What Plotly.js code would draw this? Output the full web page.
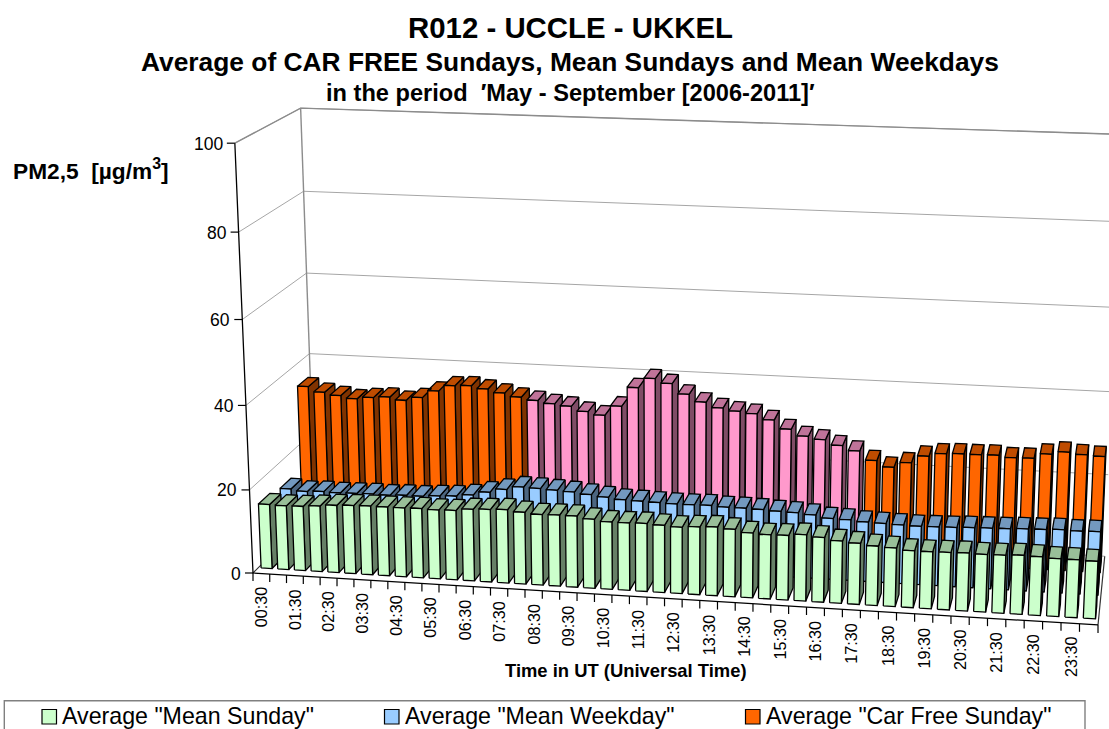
<!DOCTYPE html>
<html>
<head>
<meta charset="utf-8">
<script src="https://cdn.plot.ly/plotly-3.0.1.min.js"></script>
<style>html,body{margin:0;padding:0;background:#fff;overflow:hidden}</style>
</head>
<body>
<div id="chart" style="width:1109px;height:729px"></div>
<script>
var categories = ["00:30","01:00","01:30","02:00","02:30","03:00","03:30","04:00","04:30","05:00","05:30","06:00","06:30","07:00","07:30","08:00","08:30","09:00","09:30","10:00","10:30","11:00","11:30","12:00","12:30","13:00","13:30","14:00","14:30","15:00","15:30","16:00","16:30","17:00","17:30","18:00","18:30","19:00","19:30","20:00","20:30","21:00","21:30","22:00","22:30","23:00","23:30","24:00"];
var meanSunday = [15.5,15.4,15.5,15.8,16.2,16.4,16.5,16.5,16.5,16.6,16.5,16.6,17.1,17.3,17.5,17.1,16.8,16.9,16.9,16.4,16.0,16.0,16.1,15.9,15.7,16.0,16.2,15.9,15.3,15.1,15.2,15.6,15.2,14.6,14.3,13.9,13.7,13.3,13.3,13.4,13.5,13.4,13.5,13.7,13.6,13.4,13.4,13.3];
var meanWeekday = [14.4,14.0,14.2,14.1,14.2,14.3,14.2,14.4,14.4,14.7,14.9,15.4,16.3,17.2,18.0,17.9,17.7,17.5,17.1,16.7,16.3,16.2,16.1,16.0,16.0,16.1,15.9,15.9,15.8,15.6,15.5,15.2,14.6,14.5,14.2,14.1,14.0,13.9,14.0,14.1,14.3,14.4,14.5,14.7,14.8,15.0,14.9,15.0];
var carFreeSunday = [35.1,33.9,33.3,32.7,33.2,33.5,32.9,33.8,35.6,37.1,37.3,36.7,35.9,35.1,34.5,33.9,33.5,32.4,31.7,34.1,38.8,41.2,40.2,37.8,36.1,34.9,34.3,33.9,32.6,30.6,29.1,28.5,27.3,26.2,24.1,22.7,24.0,25.8,26.6,26.8,26.8,26.9,26.5,26.6,27.8,28.5,28.1,27.9];
var carFreeHours = [14,33];
var valueTicks = [0,20,40,60,80,100];
var seriesNames = ['Average "Mean Sunday"','Average "Mean Weekday"','Average "Car Free Sunday"'];
var FONT = '"Liberation Sans", Arial, sans-serif';

// Perspective of the 3-D chart box: u = along time, d = depth, z = value/100
function proj(u, d, v) {
  var z = v / 100;
  var w = 1 - 0.05065*u + 0.0705*d - 0.0415*z;
  return [(253 + 789.4*u + 84.25*d - 27.9*z)/w, (573 + 20.3*u - 26.0*d - 435.75*z)/w];
}
function pathTrace(pts, color, width) {
  var x = [], y = [];
  pts.forEach(function(p){ if (p === null) { x.push(null); y.push(null);} else { var q = proj(p[0],p[1],p[2]); x.push(q[0]); y.push(q[1]); } });
  return {type:'scatter', mode:'lines', x:x, y:y, hoverinfo:'skip', showlegend:false,
          line:{color:color, width:width, simplify:false}};
}
function polyTrace(polys, fill) {
  var t = pathTrace([].concat.apply([], polys.map(function(p){ return p.concat([p[0], null]); })), '#000', 1.3);
  t.fill = 'toself'; t.fillcolor = fill;
  return t;
}
var N = categories.length, traces = [];

// walls
var wall = [];
valueTicks.forEach(function(v){ wall.push([0,0,v],[0,1,v],[1,1,v],null); });
traces.push(pathTrace(wall, '#a6a6a6', 1));
traces.push(pathTrace([[0,0,100],[0,1,100],[1,1,100],null,[0,1,0],[0,1,100]], '#8c8c8c', 1.4));
traces.push(pathTrace([[0,0,0],[0,1,0],null,[1,0,0],[1,1,0]], '#333333', 1.2));

function addBars(values, d0, d1, idx, cFront, cSide, cTop) {
  var front = [], side = [], top = [];
  idx.forEach(function(i){
    var u0 = (i+0.17)/N, u1 = (i+0.83)/N, v = values[i];
    front.push([[u0,d0,0],[u1,d0,0],[u1,d0,v],[u0,d0,v]]);
    side.push([[u1,d0,0],[u1,d1,0],[u1,d1,v],[u1,d0,v]]);
    top.push([[u0,d0,v],[u1,d0,v],[u1,d1,v],[u0,d1,v]]);
  });
  traces.push(polyTrace(side, cSide), polyTrace(top, cTop), polyTrace(front, cFront));
}
var all = categories.map(function(_, i){ return i; });
var pinkIdx = all.filter(function(i){ return i >= carFreeHours[0] && i <= carFreeHours[1]; });
var orangeIdx = all.filter(function(i){ return i < carFreeHours[0] || i > carFreeHours[1]; });
addBars(carFreeSunday, 0.745, 0.92, orangeIdx, '#FF6600', '#803300', '#BF4C00');
addBars(carFreeSunday, 0.745, 0.92, pinkIdx, '#FF99CC', '#804C66', '#BF7399');
addBars(meanWeekday, 0.4125, 0.5875, all, '#99CCFF', '#4C6680', '#7399BF');
addBars(meanSunday, 0.08, 0.255, all, '#CCFFCC', '#668066', '#99BF99');

// front axes
traces.push(pathTrace([[0,0,100],[0,0,0],[1,0,0]], '#000', 1.3));

var shapes = [], annotations = [];
function txt(text, x, y, size, opts) {
  annotations.push(Object.assign({text:text, x:x, y:y, xref:'x', yref:'y', showarrow:false,
    font:{family:FONT, size:size, color:'#000'}, xanchor:'center', yanchor:'middle'}, opts||{}));
}
function seg(x0,y0,x1,y1,c){ shapes.push({type:'line',xref:'x',yref:'y',x0:x0,y0:y0,x1:x1,y1:y1,line:{color:c,width:1.2}}); }

valueTicks.forEach(function(v){
  var p = proj(0,0,v);
  seg(p[0]-8, p[1], p[0], p[1], '#000');
  txt(String(v), p[0]-10, p[1]+0.5, 17.5, {xanchor:'right'});
});
for (var i = 0; i <= N; i++) {
  var p = proj(i/N,0,0);
  seg(p[0], p[1], p[0], p[1]+8, '#000');
}
categories.forEach(function(c,i){
  if (i % 2) return;
  var p = proj((i+0.5)/N,0,0);
  txt(c, p[0], p[1]+33.5, 16.2, {textangle:-90});
});

// titles
txt('<b>R012 - UCCLE - UKKEL</b>', 570.7, 27, 29.4);
txt('<b>Average of CAR FREE Sundays, Mean Sundays and Mean Weekdays</b>', 570, 61.5, 26.35);
txt('<b>in the period  ′May - September [2006-2011]′</b>', 570, 93, 23.6);
txt('<b>PM2,5  [µg/m<sup>3</sup>]</b>', 11.3, 169, 22.7, {xanchor:'left'});
txt('<b>Time in UT (Universal Time)</b>', 626.3, 670.5, 18.4);

// legend
shapes.push({type:'rect',xref:'x',yref:'y',x0:4.3,y0:700.7,x1:1085,y1:740,line:{color:'#808080',width:1.4},fillcolor:'#fff'});
var swatchX = [42,384.5,745.5], textX = [59.7,403,764], swatchFill = ['#CCFFCC','#99CCFF','#FF6600'];
seriesNames.forEach(function(n,k){
  shapes.push({type:'rect',xref:'x',yref:'y',x0:swatchX[k],y0:709.5,x1:swatchX[k]+14.5,y1:724,line:{color:'#000',width:1.2},fillcolor:swatchFill[k]});
  txt(n, textX[k], 716.3, 23.2, {xanchor:'left'});
});

Plotly.newPlot('chart', traces, {
  width:1109, height:729, margin:{l:0,r:0,t:0,b:0}, showlegend:false,
  paper_bgcolor:'#fff', plot_bgcolor:'#fff', hovermode:false,
  xaxis:{range:[0,1109], visible:false, fixedrange:true},
  yaxis:{range:[729,0], visible:false, fixedrange:true},
  shapes:shapes, annotations:annotations
}, {displayModeBar:false, staticPlot:true});
</script>
</body>
</html>
